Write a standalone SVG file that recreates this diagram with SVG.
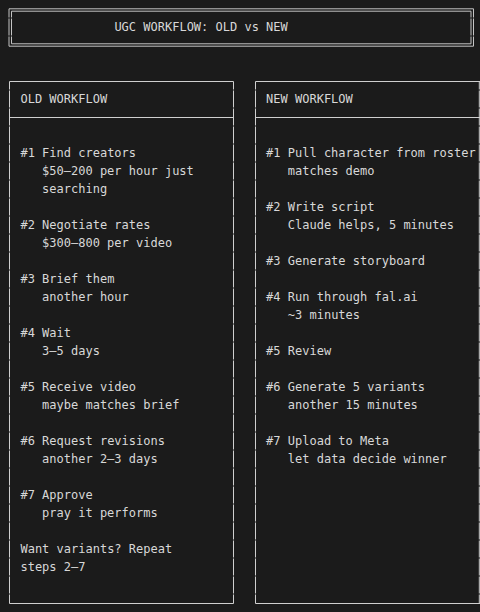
<svg xmlns="http://www.w3.org/2000/svg" width="480" height="612" viewBox="0 0 480 612">
<style>
.bg{fill:#1b1b1b}
.t{font-family:"DejaVu Sans Mono","Liberation Mono",monospace;font-size:12px;fill:#d8d8d8}
.ln{stroke:#cfcfcf;stroke-width:1;fill:none}
.dl{stroke:#c4c4c4;stroke-width:1;fill:none}
.v{stroke:#cfcfcf;stroke-width:1;fill:none;stroke-dasharray:17 1;stroke-dashoffset:9}
</style>
<rect class="bg" x="0" y="0" width="480" height="612"/>
<g id="title">
<path class="dl" d="M9 8.8H473.5M11.5 11.2H471M11.5 43.8H471M9 46.2H473.5"/>
<path class="dl" d="M9 8.8V17.5M9 18.5V35.5M9 36.5V46.2M11.5 11.2V17.5M11.5 18.5V35.5M11.5 36.5V43.8M471 11.2V17.5M471 18.5V35.5M471 36.5V43.8M473.5 8.8V17.5M473.5 18.5V35.5M473.5 36.5V46.2"/>
<text class="t" x="114.4" y="31">UGC WORKFLOW: OLD vs NEW</text>
</g>
<g id="old-workflow">
<path class="ln" d="M9.5 81.5H233.5M9.5 117.5H233.5M9.5 603.5H233.5"/>
<path class="v" d="M9.5 81.5V603.5M233.5 81.5V603.5"/>
<text class="t" x="20.45" y="103">OLD WORKFLOW</text>
<text class="t" x="20.45" y="157">#1 Find creators</text>
<text class="t" x="42.1" y="175">$50–200 per hour just</text>
<text class="t" x="42.1" y="193">searching</text>
<text class="t" x="20.45" y="229">#2 Negotiate rates</text>
<text class="t" x="42.1" y="247">$300–800 per video</text>
<text class="t" x="20.45" y="283">#3 Brief them</text>
<text class="t" x="42.1" y="301">another hour</text>
<text class="t" x="20.45" y="337">#4 Wait</text>
<text class="t" x="42.1" y="355">3–5 days</text>
<text class="t" x="20.45" y="391">#5 Receive video</text>
<text class="t" x="42.1" y="409">maybe matches brief</text>
<text class="t" x="20.45" y="445">#6 Request revisions</text>
<text class="t" x="42.1" y="463">another 2–3 days</text>
<text class="t" x="20.45" y="499">#7 Approve</text>
<text class="t" x="42.1" y="517">pray it performs</text>
<text class="t" x="20.45" y="553">Want variants? Repeat</text>
<text class="t" x="20.45" y="571">steps 2–7</text>
</g>
<g id="new-workflow">
<path class="ln" d="M255.5 81.5H480M255.5 117.5H480M255.5 603.5H480"/>
<path class="v" d="M255.5 81.5V603.5M479.3 81.5V603.5"/>
<text class="t" x="266.1" y="103">NEW WORKFLOW</text>
<text class="t" x="266.1" y="157">#1 Pull character from roster</text>
<text class="t" x="287.8" y="175">matches demo</text>
<text class="t" x="266.1" y="211">#2 Write script</text>
<text class="t" x="287.8" y="229">Claude helps, 5 minutes</text>
<text class="t" x="266.1" y="265">#3 Generate storyboard</text>
<text class="t" x="266.1" y="301">#4 Run through fal.ai</text>
<text class="t" x="287.8" y="319">~3 minutes</text>
<text class="t" x="266.1" y="355">#5 Review</text>
<text class="t" x="266.1" y="391">#6 Generate 5 variants</text>
<text class="t" x="287.8" y="409">another 15 minutes</text>
<text class="t" x="266.1" y="445">#7 Upload to Meta</text>
<text class="t" x="287.8" y="463">let data decide winner</text>
</g>
<g id="connectors"/>
</svg>
